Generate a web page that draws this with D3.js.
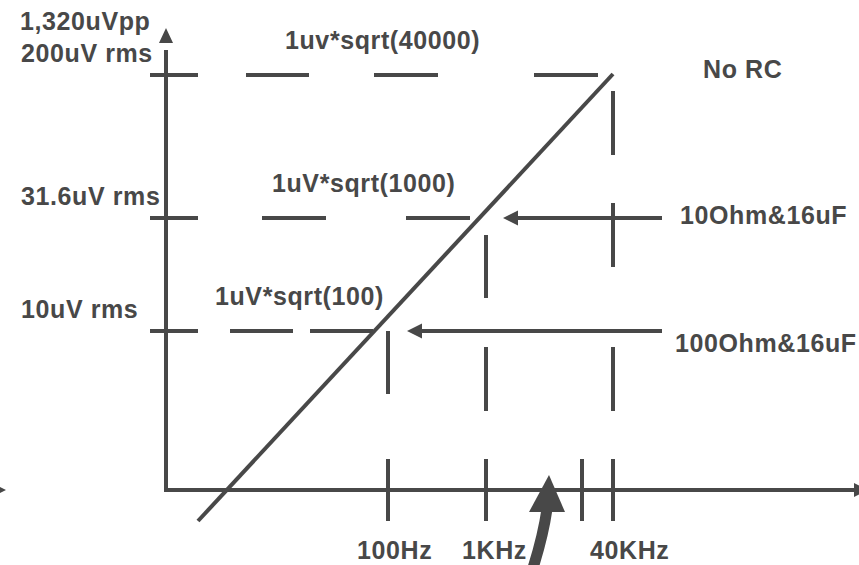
<!DOCTYPE html>
<html>
<head>
<meta charset="utf-8">
<script src="https://cdn.jsdelivr.net/npm/d3@7/dist/d3.min.js"></script>
<style>
  body { margin: 0; background: #fff; }
  text { font-family: "Liberation Sans", Arial, sans-serif; font-weight: bold; fill: #484848; font-size: 25px; letter-spacing: 0.6px; }
</style>
</head>
<body>
<svg id="chart" width="859" height="565"></svg>
<script>
// diagram units: x = distance right of the y axis, y = height above the x axis
var levelNames = ["10uV rms", "31.6uV rms", "200uV rms"];
var levelValues = [159, 272, 415];
var levelFormulas = ["1uV*sqrt(100)", "1uV*sqrt(1000)", "1uv*sqrt(40000)"];
var levelDashes = [
  [[-16, 32], [64, 127], [144, 207]],
  [[-16, 32], [96, 160], [240, 304]],
  [[-16, 32], [80, 143], [208, 272], [368, 432]]
];
var freqNames = ["100Hz", "1KHz", "", "40KHz"];
var freqValues = [222, 320, 416, 447];
var freqDashes = [
  [[96, 159], [-31, 31]],
  [[192, 255], [79, 143], [-31, 31]],
  [[-31, 31]],
  [[335, 399], [223, 287], [79, 143], [-31, 31]]
];
var rcNames = ["100Ohm&16uF", "10Ohm&16uF"];
var rcLevels = [159, 272];
var rcFrom = [496, 496];
var rcTo = [241, 337];
var slopeLine = [[32, -31], [447, 416]];
var noRcName = "No RC";
var ppName = "1,320uVpp";

var ink = "#484848";
var svg = d3.select("#chart");

var x = d3.scaleLinear().domain([0, 700]).range([166, 866]);
var y = d3.scaleLinear().domain([0, 462]).range([490, 28]);

function seg(g, x1, y1, x2, y2) {
  g.append("line")
      .attr("x1", x1).attr("y1", y1)
      .attr("x2", x2).attr("y2", y2)
      .attr("stroke", ink)
      .attr("stroke-width", 4);
}

// arrow head, tip at (tx,ty), pointing in direction (dx,dy)
function head(g, tx, ty, dx, dy, len, half) {
  var bx = tx - dx * len, by = ty - dy * len;
  var px = -dy * half, py = dx * half;
  g.append("path")
      .attr("d", "M" + tx + "," + ty + "L" + (bx + px) + "," + (by + py) + "L" + (bx - px) + "," + (by - py) + "Z")
      .attr("fill", ink);
}

var g = svg.append("g");

// axes
seg(g, x(0), y(0) + 2, x(0), y(440));
head(g, x(0), y(462), 0, -1, 15, 7);
seg(g, x(0) - 2, y(0), x(690), y(0));
head(g, x(702), y(0), 1, 0, 14, 7);
// stray arrow tip at the left edge
head(g, x(-160), y(0), 1, 0, 14, 7);

// level lines
levelValues.forEach(function(v, i) {
  levelDashes[i].forEach(function(d) {
    seg(g, x(d[0]), y(v), x(d[1]), y(v));
  });
  g.append("text")
      .attr("x", 21)
      .attr("y", y(v) - 13)
      .text(levelNames[i]);
});

g.append("text")
    .attr("x", 20)
    .attr("y", 30)
    .text(ppName);

var formulaX = [215, 272, 285];
levelFormulas.forEach(function(t, i) {
  g.append("text")
      .attr("x", formulaX[i])
      .attr("y", y(levelValues[i]) - 26)
      .text(t);
});

// frequency lines
freqValues.forEach(function(v, i) {
  freqDashes[i].forEach(function(d) {
    seg(g, x(v), y(d[0]), x(v), y(d[1]));
  });
});
var freqX = [357, 462, 0, 590];
freqNames.forEach(function(t, i) {
  if (!t) return;
  g.append("text")
      .attr("x", freqX[i])
      .attr("y", 559)
      .text(t);
});

// signal slope
seg(g, x(slopeLine[0][0]), y(slopeLine[0][1]), x(slopeLine[1][0]), y(slopeLine[1][1]));

// RC arrows
var rcX = [675, 680];
var rcDy = [21, 6];
rcNames.forEach(function(t, i) {
  seg(g, x(rcFrom[i]), y(rcLevels[i]), x(rcTo[i]) + 10, y(rcLevels[i]));
  head(g, x(rcTo[i]), y(rcLevels[i]), -1, 0, 15, 7.5);
  g.append("text")
      .attr("x", rcX[i])
      .attr("y", y(rcLevels[i]) + rcDy[i])
      .text(t);
});

g.append("text")
    .attr("x", 703)
    .attr("y", 78)
    .text(noRcName);

// curved pointer under the axis
var tipX = x(383), tipY = y(15);
g.append("path")
    .attr("d", "M" + (tipX - 17) + "," + (tipY + 96) + "Q" + (tipX - 6) + "," + (tipY + 62) + " " + (tipX - 2) + "," + (tipY + 34))
    .attr("fill", "none")
    .attr("stroke", ink)
    .attr("stroke-width", 11);
g.append("path")
    .attr("d", "M" + tipX + "," + tipY + "L" + (tipX + 16) + "," + (tipY + 37) + "L" + (tipX - 20) + "," + (tipY + 37) + "Z")
    .attr("fill", ink);
</script>
</body>
</html>
